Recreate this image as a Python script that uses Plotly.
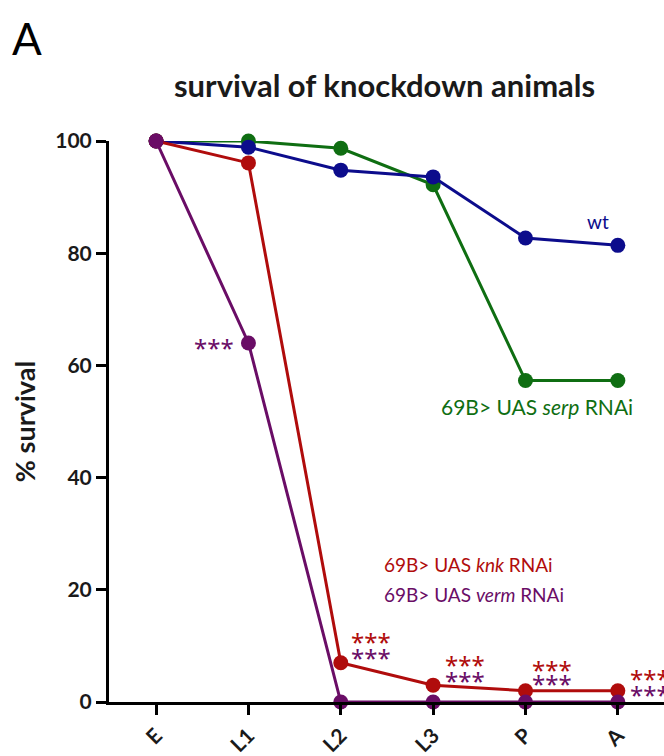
import plotly.graph_objects as go

stages = ["E", "L1", "L2", "L3", "P", "A"]
wt = [100, 98.9, 94.8, 93.6, 82.7, 81.4]
serp = [100, 100, 98.7, 92.2, 57.3, 57.3]
knk = [100, 96.1, 7.0, 3.0, 2.0, 2.0]
verm = [100, 64.0, 0, 0, 0, 0]
y_ticks = [0, 20, 40, 60, 80, 100]

C_WT = "#0c0c8c"
C_SERP = "#0f6e12"
C_KNK = "#b00c0c"
C_VERM = "#6a0d66"
FONT = "Lato"
STAR_FONT = "Noto Sans"

xi = list(range(len(stages)))
fig = go.Figure()
for name, vals, col in [("serp", serp, C_SERP), ("wt", wt, C_WT),
                        ("knk", knk, C_KNK), ("verm", verm, C_VERM)]:
    fig.add_trace(go.Scatter(x=xi, y=vals, mode="lines+markers", name=name,
                             line=dict(color=col, width=3),
                             marker=dict(color=col, size=15),
                             cliponaxis=False, showlegend=False))

fig.add_annotation(text="A", xref="paper", yref="paper", x=-0.178, y=1.184,
                   xanchor="left", yanchor="middle", showarrow=False,
                   font=dict(family=FONT, size=44, color="black"))
fig.add_annotation(text="<b>survival of knockdown animals</b>", xref="paper", yref="paper",
                   x=0.497, y=1.10, xanchor="center", yanchor="middle", showarrow=False,
                   font=dict(family=FONT, size=31, color="#1a1a1a"))

lab_font = 19
fig.add_annotation(text="wt", x=xi[5], y=wt[5], xshift=-20, yshift=24, showarrow=False,
                   xanchor="center", yanchor="middle",
                   font=dict(family=FONT, size=lab_font, color=C_WT))
fig.add_annotation(text="69B> UAS <i>serp</i> RNAi", x=xi[5], y=serp[5], xshift=-81, yshift=-26,
                   showarrow=False, xanchor="center", yanchor="middle",
                   font=dict(family=FONT, size=21, color=C_SERP))
fig.add_annotation(text="69B> UAS <i>knk</i> RNAi", x=xi[2], y=24.5, xshift=41,
                   showarrow=False, xanchor="left", yanchor="middle",
                   font=dict(family=FONT, size=lab_font, color=C_KNK))
fig.add_annotation(text="69B> UAS <i>verm</i> RNAi", x=xi[2], y=19.1, xshift=41,
                   showarrow=False, xanchor="left", yanchor="middle",
                   font=dict(family=FONT, size=lab_font, color=C_VERM))

star_size = 24
fig.add_annotation(text="***", x=xi[1], y=verm[1], xshift=-12, yshift=-5, showarrow=False,
                   xanchor="right", yanchor="middle",
                   font=dict(family=STAR_FONT, size=star_size, color=C_VERM))
star_up = [None, None, 21, 21, 21, 12]
star_lo = [None, None, 5, 5, 7, -4]
star_dx = [None, None, 8, 10, 5, 10]
for i in range(2, 6):
    fig.add_annotation(text="***", x=xi[i], y=knk[i], xshift=star_dx[i], yshift=star_up[i],
                       showarrow=False, xanchor="left", yanchor="middle",
                       font=dict(family=STAR_FONT, size=star_size, color=C_KNK))
    fig.add_annotation(text="***", x=xi[i], y=knk[i], xshift=star_dx[i], yshift=star_lo[i],
                       showarrow=False, xanchor="left", yanchor="middle",
                       font=dict(family=STAR_FONT, size=star_size, color=C_VERM))

fig.update_layout(
    width=664, height=756,
    margin=dict(l=109, r=0, t=141, b=54),
    paper_bgcolor="white", plot_bgcolor="white",
    font=dict(family=FONT, color="black"),
)
fig.update_xaxes(range=[-0.51, 5.5], tickmode="array", tickvals=xi,
                 ticktext=["<b>%s</b>" % s for s in stages], tickangle=-45,
                 automargin=False,
                 showline=True, linecolor="black", linewidth=3,
                 ticks="outside", ticklen=10, tickwidth=3, tickcolor="black",
                 showgrid=False, zeroline=False,
                 tickfont=dict(family=FONT, size=21, color="#1a1a1a"))
fig.update_yaxes(range=[0, 100], tickmode="array", tickvals=y_ticks,
                 ticktext=["<b>%d</b>" % v for v in y_ticks], automargin=False,
                 showline=True, linecolor="black", linewidth=3,
                 ticks="outside", ticklen=10, tickwidth=3, tickcolor="black",
                 showgrid=False, zeroline=False,
                 tickfont=dict(family=FONT, size=21, color="#1a1a1a"),
                 title=dict(text="<b>% survival</b>", standoff=12,
                            font=dict(family=FONT, size=27, color="#1a1a1a")))

fig.write_html("out.html")
